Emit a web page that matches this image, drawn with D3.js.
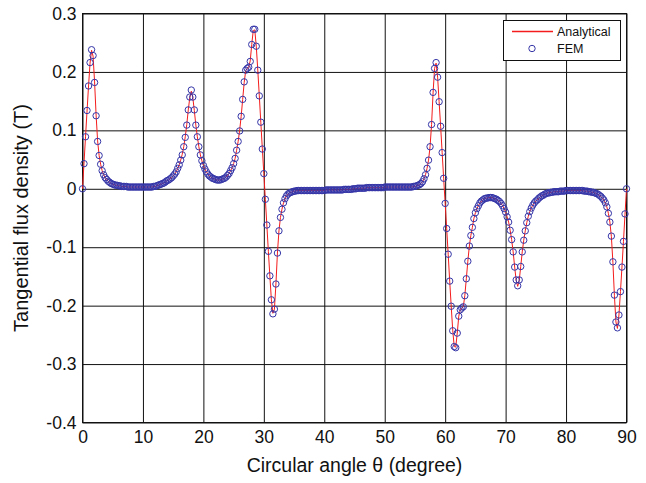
<!DOCTYPE html>
<html>
<head>
<meta charset="utf-8">
<script src="https://cdn.jsdelivr.net/npm/d3@7"></script>
<style>
  html, body { margin: 0; padding: 0; background: #fff; }
  svg { display: block; font-family: "Liberation Sans", Arial, Helvetica, sans-serif; }
</style>
</head>
<body>
<svg id="chart" width="646" height="483"></svg>
<script>
// Tangential flux density along the air-gap, sampled every 0.25 degree (0..90)
const angleStep = 0.25;

const xTicks = [0, 10, 20, 30, 40, 50, 60, 70, 80, 90];
const yTicks = [-0.4, -0.3, -0.2, -0.1, 0, 0.1, 0.2, 0.3];

// Analytical solution (T), one row = 5 degrees
const analytical = [
  0, .044, .089, .133, .176, .215, .237, .227, .183, .126, .082, .057, .042, .031, .024, .019, .016, .013, .011, .009,
  .008, .007, .006, .006, .005, .005, .004, .004, .004, .004, .003, .003, .003, .003, .003, .003, .003, .003, .003, .003,
  .003, .003, .003, .003, .003, .003, .003, .004, .004, .005, .006, .007, .008, .009, .010, .012, .014, .015, .017, .019,
  .022, .025, .029, .035, .041, .049, .059, .072, .089, .110, .135, .156, .167, .156, .134, .109, .089, .072, .058, .048,
  .040, .034, .029, .025, .022, .020, .018, .017, .016, .015, .015, .015, .016, .017, .018, .020, .023, .026, .031, .036,
  .043, .052, .066, .081, .100, .124, .153, .182, .202, .206, .208, .219, .247, .271, .272, .244, .203, .159, .114, .069,
  .026, -.018, -.062, -.107, -.150, -.190, -.213, -.206, -.163, -.110, -.072, -.049, -.035, -.024, -.017, -.012, -.009, -.007, -.006, -.005,
  -.004, -.004, -.003, -.003, -.003, -.003, -.003, -.003, -.003, -.003, -.003, -.003, -.003, -.003, -.003, -.003, -.003, -.003, -.003, -.003,
  -.003, -.002, -.002, -.002, -.002, -.002, -.002, -.002, -.002, -.002, -.002, -.002, -.002, -.001, -.001, -.001, -.001, -.001, -.001, 0,
  0, 0, .001, .001, .001, .001, .001, .001, .002, .002, .002, .002, .002, .002, .002, .002, .002, .002, .002, .002,
  .003, .003, .003, .003, .003, .003, .003, .003, .003, .003, .003, .003, .003, .003, .003, .003, .003, .003, .003, .004,
  .004, .005, .006, .007, .009, .012, .017, .024, .035, .049, .072, .110, .164, .206, .215, .191, .149, .107, .062, .018,
  -.025, -.068, -.112, -.158, -.201, -.242, -.270, -.271, -.247, -.218, -.207, -.204, -.202, -.183, -.154, -.124, -.098, -.080, -.066, -.051,
  -.041, -.034, -.029, -.024, -.021, -.019, -.017, -.016, -.016, -.015, -.015, -.015, -.016, -.017, -.018, -.020, -.022, -.025, -.029, -.034,
  -.040, -.048, -.057, -.071, -.087, -.108, -.134, -.157, -.167, -.157, -.133, -.108, -.088, -.072, -.058, -.047, -.039, -.033, -.028, -.024,
  -.021, -.019, -.016, -.014, -.012, -.011, -.009, -.008, -.007, -.007, -.006, -.006, -.005, -.005, -.005, -.005, -.004, -.004, -.004, -.004,
  -.003, -.003, -.003, -.003, -.003, -.003, -.003, -.003, -.003, -.003, -.003, -.003, -.004, -.004, -.004, -.005, -.005, -.006, -.006, -.007,
  -.008, -.009, -.011, -.013, -.016, -.019, -.024, -.031, -.042, -.057, -.082, -.126, -.183, -.228, -.239, -.216, -.176, -.134, -.090, -.044,
  0
];

// Finite element results (T), same angles
const fem = [
  0, .043, .089, .134, .176, .216, .238, .228, .182, .125, .081, .057, .042, .031, .024, .019, .016, .013, .011, .009,
  .008, .007, .006, .006, .005, .005, .004, .004, .004, .004, .003, .003, .003, .003, .003, .003, .003, .003, .003, .003,
  .003, .003, .003, .003, .003, .003, .003, .004, .004, .005, .006, .007, .008, .009, .010, .012, .014, .015, .017, .019,
  .022, .025, .029, .035, .041, .049, .058, .072, .088, .109, .135, .157, .169, .157, .135, .109, .089, .072, .058, .048,
  .040, .034, .029, .025, .022, .020, .018, .017, .016, .015, .015, .015, .016, .017, .018, .020, .023, .026, .031, .036,
  .043, .052, .066, .081, .099, .124, .153, .183, .203, .206, .208, .218, .247, .273, .273, .244, .203, .159, .114, .068,
  .026, -.018, -.062, -.107, -.149, -.190, -.214, -.206, -.163, -.110, -.072, -.049, -.035, -.024, -.017, -.012, -.009, -.007, -.006, -.005,
  -.004, -.004, -.003, -.003, -.003, -.003, -.003, -.003, -.003, -.003, -.003, -.003, -.003, -.003, -.003, -.003, -.003, -.003, -.003, -.003,
  -.003, -.002, -.002, -.002, -.002, -.002, -.002, -.002, -.002, -.002, -.002, -.002, -.002, -.001, -.001, -.001, -.001, -.001, -.001, 0,
  0, 0, .001, .001, .001, .001, .001, .001, .002, .002, .002, .002, .002, .002, .002, .002, .002, .002, .002, .002,
  .003, .003, .003, .003, .003, .003, .003, .003, .003, .003, .003, .003, .003, .003, .003, .003, .003, .003, .003, .004,
  .004, .005, .006, .007, .009, .012, .017, .024, .035, .049, .072, .110, .165, .206, .216, .191, .149, .107, .062, .018,
  -.025, -.068, -.112, -.158, -.201, -.243, -.270, -.272, -.247, -.218, -.207, -.204, -.202, -.183, -.154, -.124, -.098, -.080, -.066, -.051,
  -.041, -.034, -.029, -.024, -.021, -.019, -.017, -.016, -.016, -.015, -.015, -.015, -.016, -.017, -.018, -.020, -.022, -.025, -.029, -.034,
  -.040, -.048, -.057, -.071, -.087, -.108, -.134, -.156, -.166, -.156, -.133, -.108, -.088, -.072, -.058, -.047, -.039, -.033, -.028, -.024,
  -.021, -.019, -.016, -.014, -.012, -.011, -.009, -.008, -.007, -.007, -.006, -.006, -.005, -.005, -.005, -.005, -.004, -.004, -.004, -.004,
  -.003, -.003, -.003, -.003, -.003, -.003, -.003, -.003, -.003, -.003, -.003, -.003, -.004, -.004, -.004, -.005, -.005, -.006, -.006, -.007,
  -.008, -.009, -.011, -.013, -.016, -.019, -.024, -.031, -.042, -.057, -.081, -.125, -.182, -.228, -.238, -.216, -.176, -.134, -.090, -.043,
  0
];

const seriesNames = ["Analytical", "FEM"];
const lineColor = "#f41c1c";
const markerColor = "#3535a8";

const svg = d3.select("#chart");
const plot = { left: 82.5, right: 626.5, top: 13.5, bottom: 422.5 };

const x = d3.scaleLinear().domain([0, 90]).range([plot.left, plot.right]);
const y = d3.scaleLinear().domain([-0.4, 0.3]).range([plot.bottom, plot.top]);

// grid + tick labels
const gx = svg.append("g")
  .attr("transform", `translate(0,${plot.bottom})`)
  .call(d3.axisBottom(x).tickValues(xTicks).tickFormat(d => String(d))
    .tickSize(-(plot.bottom - plot.top)).tickPadding(8));
const gy = svg.append("g")
  .attr("transform", `translate(${plot.left},0)`)
  .call(d3.axisLeft(y).tickValues(yTicks).tickFormat(d => String(d))
    .tickSize(-(plot.right - plot.left)).tickPadding(6));

[gx, gy].forEach(g => {
  g.select(".domain").remove();
  g.selectAll(".tick line").attr("stroke", "#111").attr("stroke-width", 1);
  g.selectAll(".tick text").attr("fill", "#111").attr("font-size", 17.5)
    .attr("font-family", "'Liberation Sans', Arial, Helvetica, sans-serif");
});

// plot frame
svg.append("rect")
  .attr("x", plot.left).attr("y", plot.top)
  .attr("width", plot.right - plot.left).attr("height", plot.bottom - plot.top)
  .attr("fill", "none").attr("stroke", "#111").attr("stroke-width", 1);

// analytical curve
const line = d3.line()
  .x((d, i) => x(i * angleStep))
  .y(d => y(d));
svg.append("path")
  .datum(analytical)
  .attr("d", line)
  .attr("fill", "none")
  .attr("stroke", lineColor)
  .attr("stroke-width", 1);

// FEM markers
svg.append("g").selectAll("circle")
  .data(fem)
  .join("circle")
  .attr("cx", (d, i) => x(i * angleStep))
  .attr("cy", d => y(d))
  .attr("r", 3.2)
  .attr("fill", "none")
  .attr("stroke", markerColor)
  .attr("stroke-width", 1);

// axis titles
svg.append("text")
  .attr("x", (plot.left + plot.right) / 2).attr("y", 472)
  .attr("text-anchor", "middle")
  .attr("font-size", 19.5).attr("fill", "#111")
  .text("Circular angle θ (degree)");
svg.append("text")
  .attr("transform", `translate(28,${(plot.top + plot.bottom) / 2}) rotate(-90)`)
  .attr("text-anchor", "middle")
  .attr("font-size", 20).attr("fill", "#111")
  .text("Tangential flux density (T)");

// legend
const lg = svg.append("g");
lg.append("rect")
  .attr("x", 503.5).attr("y", 20.5).attr("width", 117).attr("height", 40)
  .attr("fill", "#fff").attr("stroke", "#111").attr("stroke-width", 1);
lg.append("path")
  .attr("d", "M512,31.5H553")
  .attr("fill", "none")
  .attr("stroke", lineColor).attr("stroke-width", 1.3);
lg.append("circle")
  .attr("cx", 532).attr("cy", 48.5).attr("r", 3.2)
  .attr("fill", "none").attr("stroke", markerColor).attr("stroke-width", 1);
lg.selectAll("text.lbl")
  .data(seriesNames)
  .join("text")
  .attr("class", "lbl")
  .attr("x", 557).attr("y", (d, i) => 31.5 + i * 17)
  .attr("dy", "0.36em")
  .attr("font-size", 12.5).attr("fill", "#111")
  .text(d => d);
</script>
</body>
</html>
